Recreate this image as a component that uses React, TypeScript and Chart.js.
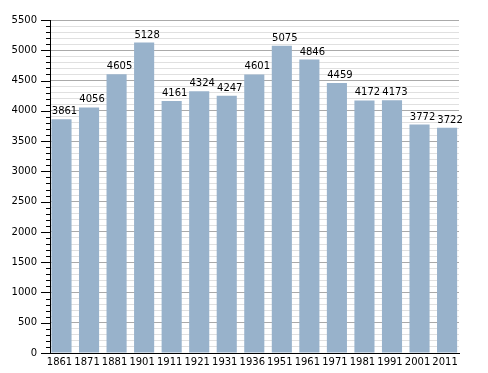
import React, { useEffect, useRef } from "react";
import { Chart, registerables } from "chart.js";

Chart.register(...registerables);

const years = ["1861", "1871", "1881", "1901", "1911", "1921", "1931", "1936", "1951", "1961", "1971", "1981", "1991", "2001", "2011"];
const population = [3861, 4056, 4605, 5128, 4161, 4324, 4247, 4601, 5075, 4846, 4459, 4172, 4173, 3772, 3722];

const FONT = "'DejaVu Sans', sans-serif";

const valueLabels = {
  id: "valueLabels",
  afterDatasetsDraw(chart: any) {
    const ctx = chart.ctx;
    const meta = chart.getDatasetMeta(0);
    ctx.save();
    ctx.font = `10px ${FONT}`;
    ctx.fillStyle = "#000";
    ctx.textAlign = "center";
    ctx.textBaseline = "alphabetic";
    meta.data.forEach((bar: any, i: number) => {
      ctx.fillText(String(population[i]), bar.x + 3, bar.y - 5);
    });
    ctx.restore();
  },
};

const yTickMarks = {
  id: "yTickMarks",
  afterDraw(chart: any) {
    const ctx = chart.ctx;
    const y = chart.scales.y;
    const left = chart.chartArea.left;
    ctx.save();
    ctx.strokeStyle = "#000";
    ctx.lineWidth = 1;
    y.ticks.forEach((t: any) => {
      const py = Math.round(y.getPixelForValue(t.value)) + 0.5;
      const len = t.value % 500 === 0 ? 9 : 4;
      ctx.beginPath();
      ctx.moveTo(left - len, py);
      ctx.lineTo(left, py);
      ctx.stroke();
    });
    ctx.restore();
  },
};

export default function App() {
  const ref = useRef<HTMLCanvasElement>(null);
  useEffect(() => {
    const chart = new Chart(ref.current!, {
      type: "bar",
      data: {
        datasets: [
          {
            data: population.map((v, i) => ({ x: i, y: v })),
            backgroundColor: "#98b2cb",
            borderWidth: 0,
            barPercentage: 0.73,
            categoryPercentage: 1,
          },
        ],
      },
      options: {
        animation: false,
        responsive: false,
        devicePixelRatio: 1,
        layout: { padding: { top: 20, right: 29, left: 0, bottom: 0 } },
        plugins: { legend: { display: false }, tooltip: { enabled: false } },
        scales: {
          x: {
            type: "linear",
            offset: false,
            min: -0.4176,
            max: 14.433,
            grid: { display: false, drawTicks: false, offset: false },
            border: { display: true, color: "#000", width: 1 },
            afterBuildTicks(scale: any) {
              scale.ticks = years.map((_, i) => ({ value: i }));
            },
            ticks: {
              color: "#000",
              font: { family: FONT, size: 10 },
              padding: 3,
              maxRotation: 0,
              autoSkip: false,
              labelOffset: -2,
              callback: (v: any) => years[Math.round(Number(v))] ?? "",
            },
            afterFit(scale: any) {
              scale.height = 20;
            },
          },
          y: {
            min: 0,
            max: 5500,
            border: { display: true, color: "#000", width: 1 },
            grid: {
              color: (c: any) => (c.tick && c.tick.value % 500 === 0 ? "#aaaaaa" : "#e0e0e0"),
              drawTicks: false,
              lineWidth: 1,
            },
            ticks: {
              stepSize: 100,
              autoSkip: false,
              color: "#000",
              font: { family: FONT, size: 10 },
              padding: 13,
              callback: (v: any) => (Number(v) % 500 === 0 ? String(v) : ""),
            },
            afterFit(scale: any) {
              scale.width = 50;
            },
          },
        },
      },
      plugins: [valueLabels, yTickMarks],
    });
    return () => chart.destroy();
  }, []);
  return (
    <div style={{ position: "fixed", left: 0, top: 0, width: 488, height: 373, background: "#fff" }}>
      <canvas ref={ref} width={488} height={373} style={{ width: 488, height: 373 }} />
    </div>
  );
}
